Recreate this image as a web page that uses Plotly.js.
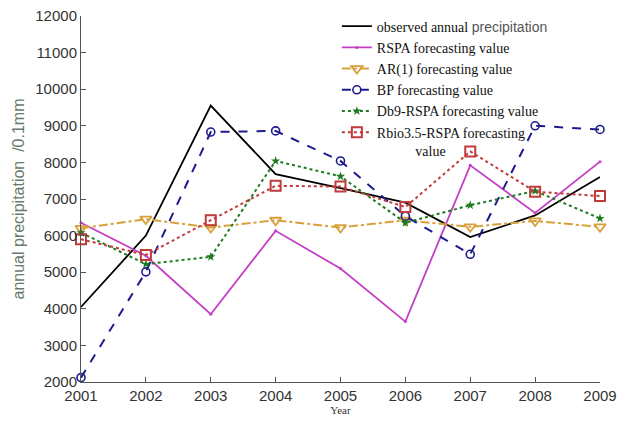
<!DOCTYPE html>
<html>
<head>
<meta charset="utf-8">
<script src="https://cdn.plot.ly/plotly-3.0.1.min.js"></script>
<style>html,body{margin:0;padding:0;background:#fff;}#chart{width:619px;height:421px;}</style>
</head>
<body>
<div id="chart"></div>
<script>
var years = [2001, 2002, 2003, 2004, 2005, 2006, 2007, 2008, 2009];
var observed = [4050, 6000, 9550, 7680, 7300, 6900, 5960, 6550, 7600];
var rspa = [6350, 5450, 3850, 6130, 5100, 3650, 7920, 6620, 8020];
var ar1 = [6200, 6450, 6220, 6420, 6220, 6420, 6240, 6400, 6240];
var bp = [2120, 5010, 8830, 8860, 8040, 6530, 5490, 9000, 8900];
var db9 = [6080, 5220, 5420, 8040, 7620, 6350, 6830, 7220, 6470];
var rbio = [5900, 5470, 6420, 7360, 7340, 6780, 8300, 7200, 7080];
var seriesNames = [
  'observed annual <span style="font-family:Arial;color:#555">precipitation</span>',
  'RSPA forecasting value',
  'AR(1) forecasting value',
  'BP forecasting value',
  'Db9-RSPA forecasting value',
  'Rbio3.5-RSPA forecasting<br>\u00A0\u00A0\u00A0\u00A0\u00A0\u00A0\u00A0\u00A0\u00A0\u00A0\u00A0value'
];
var yTicks = [2000, 3000, 4000, 5000, 6000, 7000, 8000, 9000, 10000, 11000, 12000];

var traces = [
  {x: years, y: observed, name: seriesNames[0], mode: 'lines',
   line: {color: '#000000', width: 1.8}},
  {x: years, y: rspa, name: seriesNames[1], mode: 'lines+markers',
   line: {color: '#c33fc3', width: 1.8}, marker: {symbol: 'circle', size: 3, color: '#c33fc3'}},
  {x: years, y: ar1, name: seriesNames[2], mode: 'lines+markers',
   line: {color: '#d9a03a', width: 2, dash: 'dashdot'},
   marker: {symbol: 'triangle-down-open', size: 10, color: '#d9a03a', line: {width: 1.8}}},
  {x: years, y: bp, name: seriesNames[3], mode: 'lines+markers',
   line: {color: '#1c1c8f', width: 2, dash: 'dash'},
   marker: {symbol: 'circle-open', size: 8, color: '#1c1c8f', line: {width: 1.6}}},
  {x: years, y: db9, name: seriesNames[4], mode: 'lines+markers',
   line: {color: '#1e7a1e', width: 2, dash: 'dot'},
   marker: {symbol: 'star', size: 7, color: '#1e7a1e'}},
  {x: years, y: rbio, name: seriesNames[5], mode: 'lines+markers',
   line: {color: '#c23b3b', width: 2, dash: 'dot'},
   marker: {symbol: 'square-open', size: 10, color: '#c23b3b', line: {width: 2}}}
];
traces.forEach(function(t){ t.cliponaxis = false; });

var layout = {
  width: 619, height: 421,
  margin: {l: 81, r: 19, t: 15, b: 39},
  paper_bgcolor: '#ffffff', plot_bgcolor: '#ffffff',
  showlegend: true,
  legend: {
    x: 0.493, y: 1.012, xanchor: 'left', yanchor: 'top',
    bgcolor: 'rgba(0,0,0,0)', borderwidth: 0, valign: 'top',
    font: {family: '"Liberation Serif", "Times New Roman", serif', size: 14, color: '#111'},
    tracegroupgap: 0
  },
  xaxis: {
    range: [2001, 2009], tickvals: years, ticktext: years.map(String),
    showgrid: false, zeroline: false, showline: true, linecolor: '#555', linewidth: 1,
    ticks: 'inside', ticklen: 5, tickcolor: '#555',
    tickfont: {family: 'Arial, "Liberation Sans", sans-serif', size: 15, color: '#333'},
    title: {text: 'Year', font: {family: '"Liberation Serif", "Times New Roman", serif', size: 11, color: '#333'}, standoff: 2},
    automargin: false
  },
  yaxis: {
    range: [2000, 12000], tickvals: yTicks, ticktext: yTicks.map(String),
    showgrid: false, zeroline: false, showline: true, linecolor: '#555', linewidth: 1,
    ticks: 'inside', ticklen: 5, tickcolor: '#555',
    tickfont: {family: 'Arial, "Liberation Sans", sans-serif', size: 15, color: '#333'},
    title: {text: 'annual precipitation  /0.1mm', font: {family: 'Arial, "Liberation Sans", sans-serif', size: 16, color: '#6a7a6a'}, standoff: 6},
    automargin: false
  }
};
Plotly.newPlot('chart', traces, layout, {displayModeBar: false, staticPlot: true});
</script>
</body>
</html>
